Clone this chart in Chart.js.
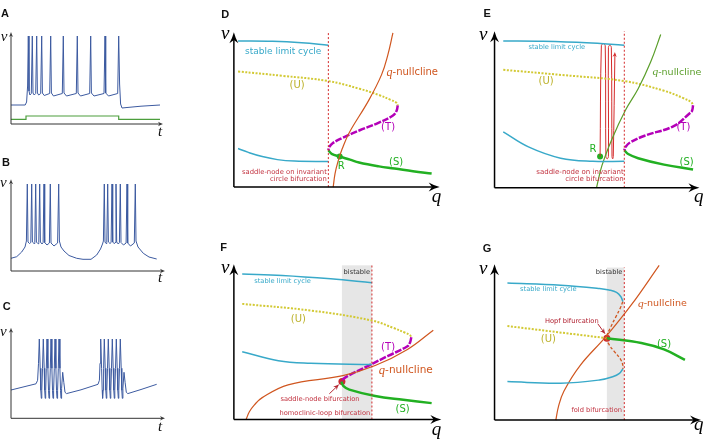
<!DOCTYPE html>
<html>
<head>
<meta charset="utf-8">
<script src="https://cdn.jsdelivr.net/npm/chart.js@4.4.1/dist/chart.umd.min.js"></script>
<style>
html, body { margin: 0; padding: 0; background: #fff; }
#wrap { position: relative; width: 708px; height: 445px; overflow: hidden; }
canvas { position: absolute; }
</style>
</head>
<body>
<div id="wrap">
  <canvas id="pA"></canvas>
  <canvas id="pB"></canvas>
  <canvas id="pC"></canvas>
  <canvas id="pD"></canvas>
  <canvas id="pE"></canvas>
  <canvas id="pF"></canvas>
  <canvas id="pG"></canvas>
</div>
<script>
const traceA = [
  [0,19],[14.2,19],[15.6,22],[16.6,38],[17.3,88],[18,33],[18.9,29],[20.3,30.5],
  [21.3,88],[22,31],[23.2,29],[24.7,30.5],
  [25.7,88],[26.4,31],[27.7,29],[29.7,30.5],
  [30.7,88],[31.4,31],[33.2,28.5],[38.7,30.5],
  [39.7,88],[40.4,31],[42.5,28],[51.3,30.5],
  [52.3,88],[53,31],[55.5,28],[65.3,30.5],
  [66.3,88],[67,31],[69.5,28],[78.7,30.5],
  [79.7,88],[80.4,31],[83,28],[93,30.5],
  [94,88],[94.7,31],[97.5,28],[106.7,30.5],
  [107.7,88],[108.6,40],[109.6,20],[111,16],[116,16.5],[130,17.8],[149,19]
];
const stimA = [[0,4.7],[15,4.7],[15,8],[107.7,8],[107.7,4.7],[149,4.7]];

const traceB = [
  [0,12.7],[5.7,14.3],[10.7,19],[14,24],[15.4,30],
  [16.3,87],[17,29],[18.5,27.5],[19.8,28.5],
  [20.7,87],[21.4,29],[23,27.5],[23.8,28.5],
  [24.7,87],[25.4,29],[27,27.3],[27.8,28.5],
  [28.7,87],[29.4,29],[31,27],[32.1,28.5],
  [33,87],[33.7,28.5],[36,26],[38.4,28],
  [39.3,87],[40,28],[43,25],[46.6,28],
  [47.7,87],[48.4,30],[50,24],[53,20],[58,15.5],[65.7,12.7],[72,11.7],[80,11.7],
  [85.7,16],[89.5,22],[91.5,27],[92.4,30],
  [93.3,87],[94,29],[95,27.5],[95.8,28.5],
  [96.7,87],[97.4,29],[99,27.5],[100.1,28.5],
  [101,87],[101.7,29],[103.3,27.3],[104.1,28.5],
  [105,87],[105.7,29],[107.3,27],[108.4,28.5],
  [109.3,87],[110,28.5],[112.5,26],[115.1,28],
  [116,87],[116.7,28],[119.5,25],[123.3,28],
  [124.3,87],[125,30],[127,24],[132.3,17.7],[138,14],[145.7,12]
];

const traceC = [
  [0,28.3],[25,34.5],[26.6,38],[27.5,55],
  [28.3,79.3],[29.2,50],[29.8,28],[30.3,20],[30.8,28],[31.5,50],
  [32.3,79.3],[33.2,50],[33.7,28],[34.2,20],[34.7,28],[35.3,50],
  [36,79.3],[36.9,50],[37.5,28],[38,20],[38.6,28],[39.3,50],
  [40,79.3],[40.9,50],[41.5,28],[42,20],[42.6,28],[43.3,50],
  [44,79.3],[44.9,50],[45.5,28],[46,20],[46.6,28],[47.3,50],
  [48,79.3],[48.9,50],[49.5,28],[50,20],[50.6,30],[51.7,46],[52.8,36],[54,26],[55.5,24.7],
  [70,28.5],[87,34],[88.4,38],[89,55],
  [89.7,79.3],[90.6,50],[91.2,28],[91.6,20],[92.1,28],[92.6,50],
  [93.3,79.3],[94.2,50],[94.8,28],[95.3,20],[95.8,28],[96.5,50],
  [97.3,79.3],[98.2,50],[98.8,28],[99.3,20],[99.8,28],[100.5,50],
  [101.3,79.3],[102.2,50],[102.8,28],[103.3,20],[103.8,28],[104.5,50],
  [105.3,79.3],[106.2,50],[106.8,28],[107.3,20],[107.8,28],[108.5,50],
  [109.3,79.3],[110.2,50],[110.8,28],[111.3,20],[111.9,30],[113,46],[114.1,36],[115.3,26],[116.8,24.7],
  [130,28.8],[145.7,34]
];

// ---- bifurcation diagrams (q, v) ----
// D
const cycleTopD = [[4.3,151.7],[40,151.3],[70,149.8],[97.7,147.3]];
const cycleBotD = [[4.3,40],[15,36],[29.3,31.7],[45,28.5],[62.6,27],[97.7,26.5]];
const branchUD = [[4.3,120],[50,115.5],[97.6,110],[130,102],[150,95.5],[162,90.5],[168,87.5],[169.3,85]];
const branchTD = [[169.3,85],[168,79],[164,74],[149.3,66.7],[130,59],[112,51],[102,45.5],[98.5,41.5],[97.6,38.3]];
const branchSD = [[97.6,38.3],[101,34.5],[109.3,31.7],[120,28.5],[129.3,25.5],[150,21.5],[166,19.3],[185,16.5],[204.3,14]];
const nullD = [[102.6,0],[104.5,14],[107.6,26.7],[112,40],[119.3,56.7],[139.3,90],[152.6,116.7],[159,137],[164.3,160]];
const restD = [[109.3,31.7]];
const snicD = 97.6;

// E
const cycleTopE = [[9,152.4],[50,152],[95,150.5],[134,148]];
const cycleBotE = [[9,58],[35,42.4],[68.3,30.7],[101.6,27.4],[134,27.4]];
const branchUE = [[9,122.4],[70,117],[134,110.7],[175,100.7],[195,93],[203,89],[205,85.7]];
const branchTE = [[205,85.7],[204,80],[201.6,77.4],[185,64],[155,54],[140,47],[135,42],[134,39]];
const branchSE = [[134,39],[138,35],[148.3,30.7],[175,24],[205,19]];
const nullE = [[105.3,0],[110.8,22.7],[121.3,50.7],[135.3,80.7],[148.3,102.7],[161.3,130.7],[171.6,159]];
const restE = [[109,32.4]];
const orbitE = [
  [109,32.4],[110.3,147.4],[112.3,149.7],[114.3,147.4],[115,32.4],[116.3,30],[117.6,32.4],
  [117.6,145.7],[119,148],[120.6,145.7],[121.3,32.4],[122,30],[122.6,32.4],[124.3,139]
];
const snicE = 134;

// F
const cycleTopF = [[8.6,151],[50,149.5],[100,146],[142.6,142]];
const cycleBotF = [[8.6,70.4],[46,61],[79.3,58.4],[142.6,57]];
const branchUF = [[8.6,120],[80,113],[142.6,102.7],[165,95],[177,90],[182,87.5],[183.3,85.4]];
const branchTF = [[183.3,85.4],[182,80],[179.3,76],[159.3,66],[139.3,56],[119.3,46],[113,42],[111,39.4]];
const branchSF = [[111,39.4],[113,35],[119.3,31],[146,24.4],[175,20.5],[204.3,17]];
const nullF = [[12.6,0],[16,8],[21,15],[29.3,22.7],[56,36],[112.6,45.5],[146,56],[179.3,72.7],[206,92.7]];
const saddleNodeF = [[111.6,39.4]];
const bistableF = [111.6,142.6];

// G
const cycleTopG = [[13.3,142.3],[68.3,140],[108.3,136.6],[118.3,135],[126,132.5],[130.5,128],[132.5,123]];
const cycleBotG = [[13.3,40],[68.3,38.3],[108.3,41.6],[122,45],[129,48.5],[132.5,53]];
const unstableCycleG = [[132.5,123],[130,116.6],[125,106.6],[120,96.6],[115.6,85],[118.3,78.3],[123.3,71.6],[130,63.3],[132.6,56.6],[132.5,53]];
const branchUG = [[13.3,97.6],[116,85]];
const branchSG = [[116,85],[151.6,80],[175,73.3],[196.6,62.6]];
const nullG = [[63.3,0],[66,14],[71.6,30],[88.3,56.6],[115,86.6],[141.6,120],[170,160.6]];
const hopfG = [[116,85]];
const bistableG = [116,134];

// ---- styles ----
const SANS = '"DejaVu Sans", "Liberation Sans", sans-serif';
const MATH = '"Liberation Serif", "DejaVu Serif", serif';
const LET = '"Liberation Sans", Arial, sans-serif';
const TRACE = '#3c5aa0';
const CYAN = '#38a9c9';
const YEL = '#d2c934';
const MAG = '#b400b8';
const GRN = '#22b022';
const ORG = '#d0561f';
const RED = '#d42a2a';
const RTXT = '#c23340';

const pts = a => a.map(p => ({ x: p[0], y: p[1] }));

function line(data, color, width, opt = {}) {
  return {
    data: pts(data), showLine: true, borderColor: color, borderWidth: width,
    pointRadius: 0, fill: false, tension: opt.tension ?? 0.4,
    borderDash: opt.dash || [], borderCapStyle: 'butt'
  };
}
function dots(data, color, r) {
  return { data: pts(data), showLine: false, pointRadius: r, backgroundColor: color, borderWidth: 0 };
}
function vline(q, top) {
  return line([[q, 0], [q, top]], RED, 1, { dash: [2, 2], tension: 0 });
}
function txt(s, x, y, color, size, align, family, style) {
  return { s, x, y, color, size, align: align || 'center', family: family || SANS, style: style || '' };
}
function nullLabel(x, y, color, size) {
  return { parts: [['q', 'italic', MATH, size * 1.2], ['-nullcline', '', SANS, size]], x, y, color };
}

function arrowHead(ctx, x, y, ang, L, W) {
  ctx.save();
  ctx.translate(x, y);
  ctx.rotate(ang);
  ctx.beginPath();
  ctx.moveTo(0, 0);
  ctx.quadraticCurveTo(-L * 0.5, -W * 0.3, -L, -W);
  ctx.lineTo(-L * 0.7, 0);
  ctx.lineTo(-L, W);
  ctx.quadraticCurveTo(-L * 0.5, W * 0.3, 0, 0);
  ctx.fill();
  ctx.restore();
}

function deco(cfg) {
  return {
    id: 'deco',
    beforeDatasetsDraw(chart) {
      if (!cfg.band) return;
      const { ctx, scales: { x, y } } = chart;
      const x0 = x.getPixelForValue(cfg.band[0]), x1 = x.getPixelForValue(cfg.band[1]);
      const y0 = y.getPixelForValue(cfg.band[2]), y1 = y.getPixelForValue(0);
      ctx.save();
      ctx.fillStyle = '#e6e6e6';
      ctx.fillRect(x0, y0, x1 - x0, y1 - y0);
      ctx.restore();
    },
    afterDatasetsDraw(chart) {
      const { ctx, scales: { x, y } } = chart;
      const ax = cfg.axes;
      const ox = x.getPixelForValue(0), oy = y.getPixelForValue(0);
      const xe = x.getPixelForValue(ax.x), ye = y.getPixelForValue(ax.y);
      ctx.save();
      ctx.strokeStyle = ax.color; ctx.fillStyle = ax.color; ctx.lineWidth = ax.lw;
      ctx.beginPath();
      ctx.moveTo(ox, oy); ctx.lineTo(xe - ax.L * 0.6, oy);
      ctx.moveTo(ox, oy); ctx.lineTo(ox, ye + ax.L * 0.6);
      ctx.stroke();
      arrowHead(ctx, xe, oy, 0, ax.L, ax.W);
      arrowHead(ctx, ox, ye, -Math.PI / 2, ax.L, ax.W);
      ctx.restore();

      (cfg.arrows || []).forEach(a => {
        const x0 = x.getPixelForValue(a.from[0]), y0 = y.getPixelForValue(a.from[1]);
        const x1 = x.getPixelForValue(a.to[0]), y1 = y.getPixelForValue(a.to[1]);
        const ang = Math.atan2(y1 - y0, x1 - x0);
        ctx.save();
        ctx.strokeStyle = a.color; ctx.fillStyle = a.color; ctx.lineWidth = 1;
        if (!a.headOnly) {
          ctx.beginPath(); ctx.moveTo(x0, y0); ctx.lineTo(x1 - Math.cos(ang) * 3, y1 - Math.sin(ang) * 3); ctx.stroke();
        }
        arrowHead(ctx, x1, y1, ang, a.L || 5, a.W || 2.5);
        ctx.restore();
      });

      (cfg.texts || []).forEach(t => {
        const px = x.getPixelForValue(t.x), py = y.getPixelForValue(t.y);
        ctx.save();
        ctx.fillStyle = t.color;
        ctx.textBaseline = 'middle';
        if (t.parts) {
          let w = 0;
          t.parts.forEach(p => { ctx.font = `${p[1]} ${p[3]}px ${p[2]}`; w += ctx.measureText(p[0]).width; });
          let cx = px - w / 2;
          ctx.textAlign = 'left';
          t.parts.forEach(p => { ctx.font = `${p[1]} ${p[3]}px ${p[2]}`; ctx.fillText(p[0], cx, py); cx += ctx.measureText(p[0]).width; });
        } else {
          ctx.font = `${t.style} ${t.size}px ${t.family}`;
          ctx.textAlign = t.align;
          ctx.fillText(t.s, px, py);
        }
        ctx.restore();
      });
    }
  };
}

function panel(id, box, origin, datasets, cfg) {
  const cv = document.getElementById(id);
  cv.width = box[2]; cv.height = box[3];
  cv.style.left = box[0] + 'px'; cv.style.top = box[1] + 'px';
  const xmin = box[0] - origin[0], ymax = origin[1] - box[1];
  return new Chart(cv, {
    type: 'scatter',
    data: { datasets },
    options: {
      responsive: false, animation: false, events: [],
      layout: { padding: 0 },
      scales: {
        x: { type: 'linear', display: false, min: xmin, max: xmin + box[2] },
        y: { type: 'linear', display: false, min: ymax - box[3], max: ymax }
      },
      plugins: { legend: { display: false }, tooltip: { enabled: false } }
    },
    plugins: [deco(cfg)]
  });
}

const smallAxes = (xe, ye) => ({ x: xe, y: ye, color: '#333', lw: 1, L: 5, W: 2.2 });
const bigAxes = (xe, ye) => ({ x: xe, y: ye, color: '#000', lw: 1.5, L: 11, W: 4.5 });
const TDASH = [7, 1.5];

// A
panel('pA', [0, 0, 175, 145], [11, 124], [
  line(stimA, '#4c9e3c', 1.2, { tension: 0 }),
  line(traceA, TRACE, 1, { tension: 0 })
], {
  axes: smallAxes(152, 92),
  texts: [
    txt('A', -6, 110, '#111', 11, 'center', LET, 'bold'),
    txt('v', -7, 86.5, '#111', 15, 'center', MATH, 'italic'),
    txt('t', 149, -8, '#111', 15, 'center', MATH, 'italic')
  ]
});

// B
panel('pB', [0, 145, 175, 145], [11, 271], [
  line(traceB, TRACE, 1, { tension: 0 })
], {
  axes: smallAxes(154, 91.7),
  texts: [
    txt('B', -5, 108, '#111', 11, 'center', LET, 'bold'),
    txt('v', -7.7, 87.5, '#111', 15, 'center', MATH, 'italic'),
    txt('t', 149, -7.5, '#111', 15, 'center', MATH, 'italic')
  ]
});

// C
panel('pC', [0, 290, 175, 155], [11, 418.3], [
  line(traceC, TRACE, 1, { tension: 0 })
], {
  axes: smallAxes(154, 90.6),
  texts: [
    txt('C', -4.3, 111.6, '#111', 11, 'center', LET, 'bold'),
    txt('v', -7.7, 86.5, '#111', 15, 'center', MATH, 'italic'),
    txt('t', 149, -8.4, '#111', 15, 'center', MATH, 'italic')
  ]
});

// D
panel('pD', [205, 0, 250, 220], [230.7, 190], [
  vline(snicD, 160.7),
  line(cycleTopD, CYAN, 1.5),
  line(cycleBotD, CYAN, 1.5),
  line(nullD, ORG, 1.2),
  line(branchUD, YEL, 2, { dash: [2, 1.5] }),
  line(branchTD, MAG, 2.5, { dash: TDASH }),
  line(branchSD, GRN, 2.5),
  dots(restD, GRN, 3)
], {
  axes: bigAxes(212.6, 160.7),
  texts: [
    txt('D', -9, 178.3, '#111', 11, 'center', LET, 'bold'),
    txt('v', -9, 158.5, '#000', 19, 'center', MATH, 'italic'),
    txt('q', 209.3, -10, '#000', 19, 'center', MATH, 'italic'),
    txt('stable limit cycle', 51, 141, CYAN, 9),
    txt('(U)', 65.3, 105.7, '#bdb22c', 10),
    txt('(T)', 159.3, 61.7, MAG, 10),
    txt('(S)', 167.6, 25.7, GRN, 10),
    txt('R', 111, 21.7, GRN, 10),
    nullLabel(184.3, 119, ORG, 10),
    txt('saddle-node on invariant', 96, 15, RTXT, 6.8, 'right'),
    txt('circle bifurcation', 96, 8.3, RTXT, 6.8, 'right')
  ]
});

// E
panel('pE', [455, 0, 253, 220], [491.7, 190.7], [
  vline(snicE, 162.4),
  line(cycleTopE, CYAN, 1.5),
  line(cycleBotE, CYAN, 1.5),
  line(nullE, '#5a9e2a', 1.2),
  line(branchUE, YEL, 2, { dash: [2, 1.5] }),
  line(branchTE, MAG, 2.5, { dash: TDASH }),
  line(branchSE, GRN, 2.5),
  line(orbitE, RED, 1, { tension: 0.35 }),
  dots(restE, GRN, 3)
], {
  axes: bigAxes(211.6, 162.4),
  arrows: [{ from: [124, 134], to: [124.3, 141], color: RED, headOnly: true, L: 5, W: 2.2 }],
  texts: [
    txt('E', -7.7, 180.7, '#111', 11, 'center', LET, 'bold'),
    txt('v', -11.7, 159, '#000', 19, 'center', MATH, 'italic'),
    txt('q', 211, -9.3, '#000', 19, 'center', MATH, 'italic'),
    txt('stable limit cycle', 64.3, 145.7, CYAN, 6.7),
    txt('(U)', 53.3, 110.7, '#bdb22c', 10),
    txt('(T)', 195, 62.4, MAG, 10),
    txt('(S)', 198.3, 26.7, GRN, 10),
    txt('R', 101.6, 40, GRN, 10),
    nullLabel(188.3, 119.7, '#5a9e2a', 9.5),
    txt('saddle-node on invariant', 133.3, 15.7, RTXT, 7, 'right'),
    txt('circle bifurcation', 133.3, 9, RTXT, 7, 'right')
  ]
});

// F
panel('pF', [205, 225, 250, 220], [230.7, 422.7], [
  vline(bistableF[1], 160),
  line(cycleTopF, CYAN, 1.5),
  line(cycleBotF, CYAN, 1.5),
  line(nullF, ORG, 1.2),
  line(branchUF, YEL, 2, { dash: [2, 1.5] }),
  line(branchTF, MAG, 2.5, { dash: TDASH }),
  line(branchSF, GRN, 2.5),
  dots(saddleNodeF, '#cc2a30', 3.5)
], {
  band: [bistableF[0], bistableF[1], 160],
  axes: bigAxes(214.3, 161),
  arrows: [{ from: [98.6, 26.7], to: [108.8, 36.5], color: '#b52a35', L: 6, W: 2.5 }],
  texts: [
    txt('F', -10.7, 177.7, '#111', 11, 'center', LET, 'bold'),
    txt('v', -9, 157.7, '#000', 19, 'center', MATH, 'italic'),
    txt('q', 209.3, -10.6, '#000', 19, 'center', MATH, 'italic'),
    txt('bistable', 127, 152.7, '#333', 6.7),
    txt('stable limit cycle', 50.3, 143.7, CYAN, 6.7),
    txt('(U)', 66.6, 104.4, '#bdb22c', 10),
    txt('(T)', 159.3, 74.4, MAG, 10),
    txt('(S)', 174.3, 11, GRN, 10),
    nullLabel(177.6, 51, ORG, 10.5),
    txt('saddle-node bifurcation', 89, 21, RTXT, 6.7),
    txt('homoclinic-loop bifurcation', 94, 6, RTXT, 6.7)
  ]
});

// G
panel('pG', [455, 225, 253, 220], [491.7, 423.3], [
  vline(bistableG[1], 158.3),
  line(cycleTopG, CYAN, 1.5),
  line(cycleBotG, CYAN, 1.5),
  line(unstableCycleG, ORG, 1.3, { dash: [3, 2] }),
  line(nullG, ORG, 1.2),
  line(branchUG, YEL, 2, { dash: [2, 1.5], tension: 0 }),
  line(branchSG, GRN, 2.5),
  dots(hopfG, '#cc2a30', 3.5)
], {
  band: [bistableG[0], bistableG[1], 158.3],
  axes: bigAxes(213.3, 161.6),
  arrows: [{ from: [106.6, 100], to: [114.5, 89], color: '#b52a35', L: 6, W: 2.5 }],
  texts: [
    txt('G', -7.7, 177.3, '#111', 11, 'center', LET, 'bold'),
    txt('v', -11.7, 156.6, '#000', 19, 'center', MATH, 'italic'),
    txt('q', 211, -5, '#000', 19, 'center', MATH, 'italic'),
    txt('bistable', 118.3, 153.3, '#333', 6.7),
    txt('stable limit cycle', 55.6, 135.6, CYAN, 6.7),
    txt('(U)', 55.6, 83.3, '#bdb22c', 10),
    txt('(S)', 175, 78.3, GRN, 10),
    nullLabel(173.3, 120.6, ORG, 9.5),
    txt('Hopf bifurcation', 107.5, 102.3, '#b02030', 6.7, 'right'),
    txt('fold bifurcation', 131.6, 10.6, RTXT, 6.7, 'right')
  ]
});
</script>
</body>
</html>
